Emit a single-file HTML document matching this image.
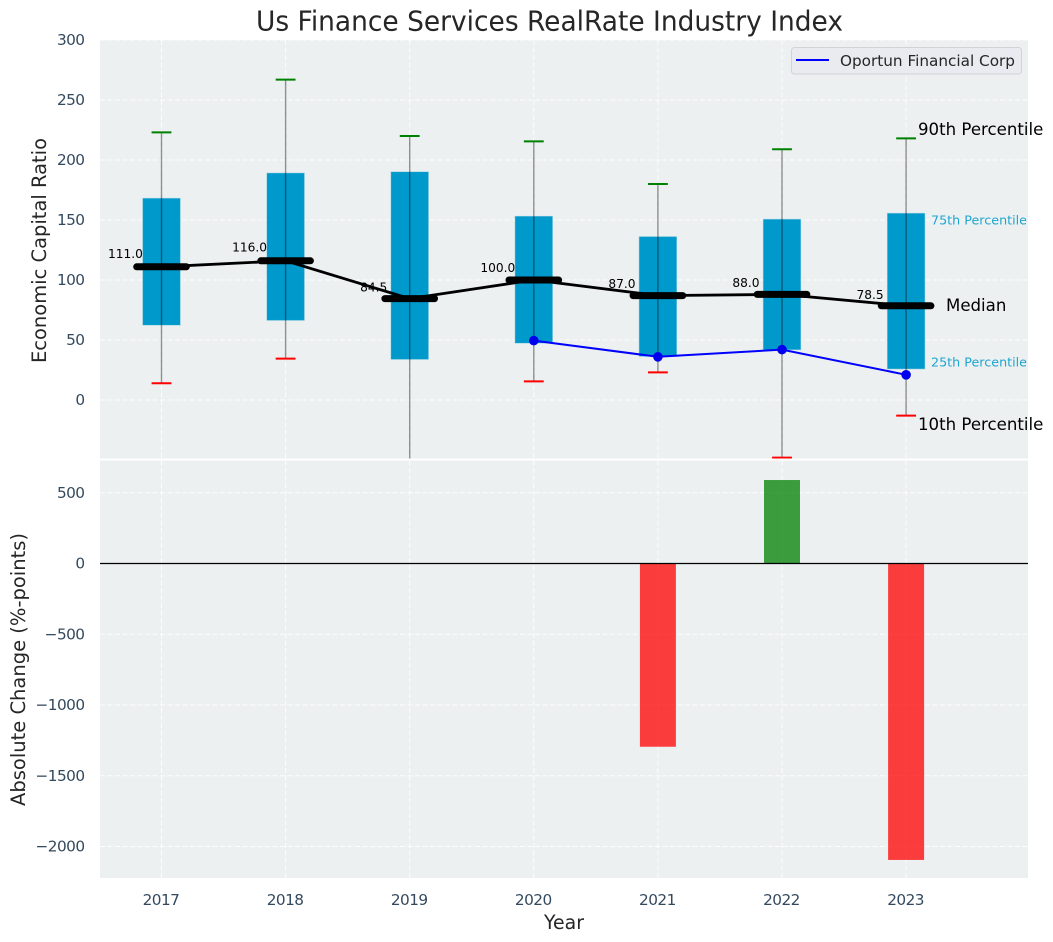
<!DOCTYPE html>
<html>
<head>
<meta charset="utf-8">
<title>Us Finance Services RealRate Industry Index</title>
<style>
html,body{margin:0;padding:0;background:#fff;width:1053px;height:942px;overflow:hidden}
svg{display:block;font-family:"DejaVu Sans","Liberation Sans",sans-serif}
</style>
</head>
<body>
<svg id="chart" xmlns="http://www.w3.org/2000/svg" width="1053" height="942" viewBox="0 0 1053 942">
  <defs>
    <clipPath id="clip-top"><rect x="100" y="40" width="928" height="418.5"/></clipPath>
    <clipPath id="clip-bot"><rect x="100" y="460.5" width="928" height="417.5"/></clipPath>
  </defs>
  <rect x="100" y="40" width="928" height="418.5" fill="#ecf0f1"/>
  <rect x="100" y="460.5" width="928" height="417.5" fill="#ecf0f1"/>
  <g id="grid"></g>
  <g id="marks-top" clip-path="url(#clip-top)"></g>
  <g id="marks-bot" clip-path="url(#clip-bot)"></g>
  <g id="labels"></g>
  <text x="256" y="30.500" textLength="587" lengthAdjust="spacingAndGlyphs" font-size="27.8" fill="#262626">Us Finance Services RealRate Industry Index</text>
  <text transform="translate(46,363) rotate(-90)" textLength="225" lengthAdjust="spacingAndGlyphs" font-size="19.4" fill="#262626">Economic Capital Ratio</text>
  <text transform="translate(25,806) rotate(-90)" textLength="273" lengthAdjust="spacingAndGlyphs" font-size="19.4" fill="#262626">Absolute Change (%-points)</text>
  <text x="544" y="929" textLength="40" lengthAdjust="spacingAndGlyphs" font-size="19.4" fill="#262626">Year</text>
  <g>
    <rect x="791.5" y="47.5" width="230" height="26.5" rx="3" fill="#eaebf0" stroke="#d2d3d5" stroke-width="1"/>
    <line x1="796" y1="60" x2="829" y2="60" stroke="#0000ff" stroke-width="2"/>
    <text x="840" y="66" font-size="15.3" textLength="175" lengthAdjust="spacingAndGlyphs" fill="#262626">Oportun Financial Corp</text>
  </g>
  <text x="918" y="135" font-size="16.6" fill="#000">90th Percentile</text>
  <text x="931" y="224.500" font-size="12.5" textLength="96" lengthAdjust="spacingAndGlyphs" fill="#1ea5d0">75th Percentile</text>
  <text x="946" y="311" font-size="16.6" fill="#000">Median</text>
  <text x="931" y="366.500" font-size="12.5" textLength="96" lengthAdjust="spacingAndGlyphs" fill="#1ea5d0">25th Percentile</text>
  <text x="918" y="430" font-size="16.6" fill="#000">10th Percentile</text>
</svg>
<script>
var years = [2017, 2018, 2019, 2020, 2021, 2022, 2023];
var p10 = [14, 34.5, -60, 15.5, 23, -48, -13];
var p25 = [62.5, 66.5, 34, 47.5, 36.5, 42, 26];
var median = [111, 116, 84.5, 100, 87, 88, 78.5];
var p75 = [168, 189, 190, 153, 136, 150.5, 155.5];
var p90 = [223, 267, 220, 215.5, 180, 209, 218];
var companyYears = [2020, 2021, 2022, 2023];
var companyValues = [49.5, 36, 42, 21];
var changeYears = [2021, 2022, 2023];
var changeValues = [-1295, 590, -2095];
var topTicks = [0, 50, 100, 150, 200, 250, 300];
var bottomTicks = [500, 0, -500, -1000, -1500, -2000];

var NS = 'http://www.w3.org/2000/svg';
function X(v) { return 161.5 + (v - 2017) * 124.1; }
function YT(v) { return 400 - v * 1.2; }
function YB(v) { return 563.5 - v * 0.1415; }
function XW(u) { return u * 124.1; }
function make(tag, parent, attrs, text) {
  var el = document.createElementNS(NS, tag);
  for (var k in attrs) el.setAttribute(k, attrs[k]);
  if (text !== undefined) el.textContent = text;
  parent.appendChild(el);
  return el;
}
function fmtTick(v) { return v < 0 ? '\u2212' + Math.abs(v) : String(v); }

var grid = document.getElementById('grid');
var top_ = document.getElementById('marks-top');
var bot = document.getElementById('marks-bot');
var labels = document.getElementById('labels');
var el;
var gridStyle = {stroke: '#fff', 'stroke-width': 1, 'stroke-dasharray': '5 2.5', 'stroke-opacity': 0.85};
function gridAttrs(x1, y1, x2, y2) {
  var a = {x1: x1, y1: y1, x2: x2, y2: y2};
  for (var k in gridStyle) a[k] = gridStyle[k];
  return a;
}

years.forEach(function (y) {
  el = make('line', grid, gridAttrs(X(y), 40, X(y), 458.5));
  
  
  el = make('line', grid, gridAttrs(X(y), 460.5, X(y), 878));
  
  
  el = make('text', labels, {x: X(y) - 0.5, y: 905, 'text-anchor': 'middle', 'font-size': 15.3, 'letter-spacing': '-0.55px', fill: '#34495e'}, String(y));
  
  
});
topTicks.forEach(function (t) {
  el = make('line', grid, gridAttrs(100, YT(t), 1028, YT(t)));
  
  
  el = make('text', labels, {x: 84.5, y: YT(t) + 5.1, 'text-anchor': 'end', 'font-size': 15.3, 'letter-spacing': '-0.55px', fill: '#34495e'}, fmtTick(t));
  
  
});
bottomTicks.forEach(function (t) {
  el = make('line', grid, gridAttrs(100, YB(t), 1028, YB(t)));
  
  
  el = make('text', labels, {x: 84.5, y: YB(t) + 5.1, 'text-anchor': 'end', 'font-size': 15.3, 'letter-spacing': '-0.55px', fill: '#34495e'}, fmtTick(t));
  
  
});

years.forEach(function (y, i) {
  var cx = X(y);
  var hw = XW(0.15);
  el = make('rect', top_, {x: cx - hw, y: YT(p75[i]), width: 2 * hw, height: YT(p25[i]) - YT(p75[i]), fill: '#0099cc', stroke: '#1ea5d0', 'stroke-opacity': 0.4, 'stroke-width': 1});
  
  
  el = make('line', top_, {x1: cx, x2: cx, y1: YT(p90[i]), y2: YT(p10[i]), stroke: '#000', 'stroke-opacity': 0.42, 'stroke-width': 1.4});
  
  
  el = make('line', top_, {x1: cx - XW(0.08), x2: cx + XW(0.08), y1: YT(p90[i]), y2: YT(p90[i]), stroke: '#008000', 'stroke-width': 2});
  
  
  el = make('line', top_, {x1: cx - XW(0.08), x2: cx + XW(0.08), y1: YT(p10[i]), y2: YT(p10[i]), stroke: '#ff0000', 'stroke-width': 2});
  
  
});

el = make('polyline', top_, {points: years.map(function (y, i) { return X(y) + ',' + YT(median[i]); }).join(' '), fill: 'none', stroke: '#000', 'stroke-width': 2.8});



years.forEach(function (y, i) {
  var cx = X(y);
  el = make('line', top_, {x1: cx - XW(0.2), x2: cx + XW(0.2), y1: YT(median[i]), y2: YT(median[i]), stroke: '#000', 'stroke-width': 7, 'stroke-linecap': 'round'});
  
  
  el = make('text', labels, {x: cx - 36, y: YT(median[i] * 1.05 + 5.5) + 4.4, 'text-anchor': 'middle', 'font-size': 12.2, fill: '#000'}, median[i].toFixed(1));
  
  
});

el = make('polyline', top_, {points: companyYears.map(function (y, i) { return X(y) + ',' + YT(companyValues[i]); }).join(' '), fill: 'none', stroke: '#0000ff', 'stroke-width': 2});


companyYears.forEach(function (y, i) {
  el = make('circle', top_, {cx: X(y), cy: YT(companyValues[i]), r: 4.8, fill: '#0000ee'});
  
  
});

changeYears.forEach(function (y, i) {
  var v = changeValues[i];
  var hw = XW(0.145);
  var y0 = Math.min(YB(0), YB(v));
  var h = Math.abs(YB(v) - YB(0));
  el = make('rect', bot, {x: X(y) - hw, y: y0, width: 2 * hw, height: h, fill: v < 0 ? '#ff0000' : '#008000', 'fill-opacity': 0.75});
  
  
});
el = make('line', bot, {x1: 100, x2: 1028, y1: YB(0), y2: YB(0), stroke: '#000', 'stroke-width': 1.3});


</script>
</body>
</html>
